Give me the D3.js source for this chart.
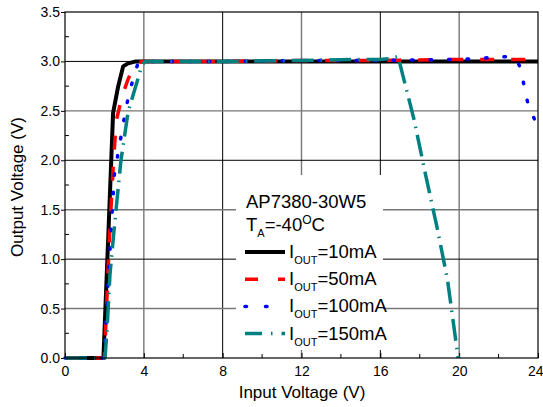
<!DOCTYPE html>
<html><head><meta charset="utf-8">
<script src="https://cdn.jsdelivr.net/npm/d3@7"></script>
<style>body{margin:0;background:#fff} text{font-family:"Liberation Sans",Arial,sans-serif;fill:#000}</style>
</head><body><svg id="c" width="543" height="407"></svg>
<script>
const xTickValues=[0,4,8,12,16,20,24];
const yTickValues=[0,0.5,1,1.5,2,2.5,3,3.5];
const xMinor=[2,6,10,14,18,22];
const yMinor=[0.25,0.75,1.25,1.75,2.25,2.75,3.25];

const labels=["10mA","50mA","100mA","150mA"];
const colors=["#000000","#ff0000","#0000ff","#008080"];

const x10=[0,1.95,2.2,2.44,2.7,2.95,3.2,3.6,8,12,16,20,24];
const y10=[0,0,1.25,2.48,2.75,2.95,2.98,3.0,3.0,3.0,3.0,3.0,3.0];
const x50=[0,2.0,2.25,2.45,2.6,2.9,3.2,3.5,3.9,8,12,16,20,24];
const y50=[0,0,1.2,1.95,2.4,2.65,2.82,2.95,3.0,3.0,3.01,3.01,3.02,3.02];
const x100=[0,1.98,2.2,2.5,2.7,3.0,3.25,3.7,4.0,8,12,16,20,21.7,22.6,22.9,23.1,23.3,23.5,23.9,24];
const y100=[0,0,0.8,1.85,2.08,2.42,2.68,2.98,3.0,3.0,3.01,3.01,3.02,3.04,3.05,3.02,2.94,2.75,2.56,2.38,2.36];
const x150=[0,2.03,2.13,2.28,2.44,2.64,2.84,3.2,3.65,3.85,4.05,8,12,15,16,16.5,16.9,17.7,18.3,18.9,19.4,19.95];
const y150=[0,0,0.28,0.84,1.19,1.6,2.0,2.49,2.79,2.93,3.0,3.0,3.01,3.02,3.02,3.03,3.05,2.42,1.85,1.3,0.8,0];

const seriesX=[x10,x50,x100,x150];
const seriesY=[y10,y50,y100,y150];
const dashes=[null,"14,17","1.5,17","22,7,1.5,7"];
const widths=[4,3.5,3.5,3.5];
const caps=["butt","butt","round","butt"];

const svg=d3.select("#c");
const L=65,R=538,T=12,B=358;
const x=d3.scaleLinear().domain([0,24]).range([L,R]);
const y=d3.scaleLinear().domain([0,3.5]).range([B,T]);

// grid
const g=svg.append("g");
g.selectAll("line.vg").data(xTickValues.slice(1,-1)).enter().append("line")
 .attr("x1",d=>x(d)).attr("x2",d=>x(d)).attr("y1",T).attr("y2",B)
 .attr("stroke",(d,i)=>i%2?"#000":"#777").attr("stroke-width",(d,i)=>i%2?1:1.4);
g.selectAll("line.hg").data(yTickValues.slice(1,-1)).enter().append("line")
 .attr("x1",L).attr("x2",R).attr("y1",d=>y(d)).attr("y2",d=>y(d))
 .attr("stroke",(d,i)=>i%2?"#000":"#777").attr("stroke-width",(d,i)=>i%2?1:1.4);

// minor ticks
svg.selectAll("line.xm").data(xMinor).enter().append("line")
 .attr("x1",d=>x(d)).attr("x2",d=>x(d)).attr("y1",B).attr("y2",B-4).attr("stroke","#000");
svg.selectAll("line.ym").data(yMinor).enter().append("line")
 .attr("x1",L).attr("x2",L+4).attr("y1",d=>y(d)).attr("y2",d=>y(d)).attr("stroke","#000");

// legend background
const lg=svg.append("g");
lg.append("rect").attr("x",236).attr("y",175).attr("width",147).attr("height",175).attr("fill","#fff");

// axes
const xa=svg.append("g").attr("transform",`translate(0,${B})`)
 .call(d3.axisBottom(x).tickValues(xTickValues).tickFormat(d3.format("d")).tickSize(-5).tickPadding(5));
const ya=svg.append("g").attr("transform",`translate(${L},0)`)
 .call(d3.axisLeft(y).tickValues(yTickValues).tickFormat(d3.format(".1f")).tickSize(4).tickPadding(1));
[xa,ya].forEach(a=>{a.select(".domain").remove();a.selectAll("text").attr("font-size",14).attr("font-family","Liberation Sans, Arial, sans-serif").attr("fill","#000");a.selectAll("line").attr("stroke","#000");});
xa.selectAll("text").attr("dy","0.9em");
xa.selectAll(".tick").filter(d=>d===24).select("text").attr("text-anchor","end").attr("x",5);

// curves
const line=d3.line().x(d=>x(d[0])).y(d=>y(d[1]));
seriesX.forEach((xs,i)=>{
  const pts=xs.map((v,j)=>[v,seriesY[i][j]]);
  svg.append("path").attr("d",line(pts)).attr("fill","none").attr("stroke",colors[i])
   .attr("stroke-width",widths[i]).attr("stroke-dasharray",dashes[i]).attr("stroke-linecap",caps[i])
   .attr("stroke-linejoin","round");
});

// frame
svg.append("rect").attr("x",L).attr("y",T).attr("width",R-L).attr("height",B-T)
 .attr("fill","none").attr("stroke","#000").attr("stroke-width",1.2);

// legend text
lg.append("text").attr("x",246).attr("y",208).attr("font-size",18.5).text("AP7380-30W5");
const t2=lg.append("text").attr("x",246).attr("y",231).attr("font-size",18.5);
t2.append("tspan").text("T");
t2.append("tspan").attr("font-size",11).attr("dy",6).text("A");
t2.append("tspan").attr("dy",-6).text("=-40");
t2.append("tspan").attr("font-size",12).attr("dy",-7).text("O");
t2.append("tspan").attr("dy",7).text("C");

labels.forEach((lab,i)=>{
  const yy=252+i*27.2;
  lg.append("line").attr("x1",245).attr("x2",285).attr("y1",yy).attr("y2",yy)
   .attr("stroke",colors[i]).attr("stroke-width",widths[i])
   .attr("stroke-dasharray",i==0?null:(i==1?"13,20":(i==2?"1.5,19":"17,9,1.5,9")))
   .attr("stroke-linecap",caps[i]);
  const t=lg.append("text").attr("x",289).attr("y",yy+6).attr("font-size",18.5);
  t.append("tspan").text("I");
  t.append("tspan").attr("font-size",11).attr("dy",6).text("OUT");
  t.append("tspan").attr("dy",-6).text("="+lab);
});

// axis titles
svg.append("text").attr("x",302).attr("y",398).attr("text-anchor","middle").attr("font-size",17).text("Input Voltage (V)");
svg.append("text").attr("transform","translate(23,187) rotate(-90)").attr("text-anchor","middle").attr("font-size",17).text("Output Voltage (V)");
</script></body></html>
